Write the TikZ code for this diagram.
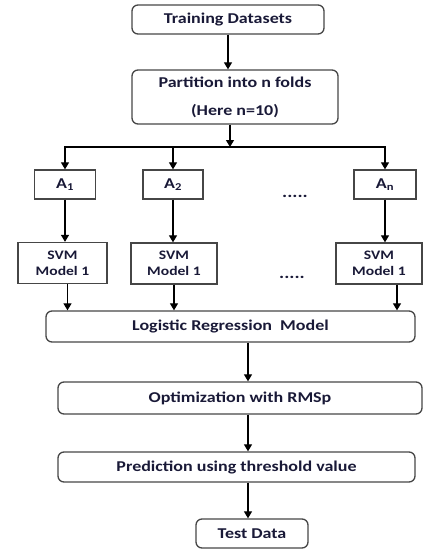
\documentclass[tikz,border=0pt]{standalone}
\usepackage{fontspec}
\setmainfont{Carlito}[FakeStretch=1.2]
\usetikzlibrary{arrows.meta}
\definecolor{boxline}{RGB}{70,70,70}
\definecolor{txt}{RGB}{25,25,55}
\begin{document}
\begin{tikzpicture}[x=1pt,y=-1pt]
    \tikzstyle{e} = [draw, line width=1.1pt, -{Triangle[length=7pt,width=8pt]}]
    \tikzstyle{rbox} = [draw=boxline, line width=1.3pt, rounded corners=6pt, inner sep=0pt, text=txt, align=center, font=\bfseries\fontsize{15}{18}\selectfont]
    \tikzstyle{sbox} = [draw=boxline, line width=1.3pt, inner sep=0pt, text=txt, align=center, font=\bfseries\fontsize{13}{16}\selectfont]
    \tikzstyle{abox} = [sbox, minimum height=29pt, font=\bfseries\fontsize{15}{18}\selectfont]
    \useasboundingbox (0,0) rectangle (423,550);
    % top of the chart
    \node[rbox, minimum width=192pt, minimum height=29pt] (train) at (228,19.5) {Training Datasets};
    \node[rbox, minimum width=206pt, minimum height=54pt] (part) at (235,97) {Partition into n folds\\[10pt](Here n=10)};
    \coordinate (split) at (230,147);
    \coordinate (spine) at (248,0);
    % folds
    \node[abox, minimum width=61pt] (A1) at (65,184.5) {A\textsubscript{1}};
    \node[abox, minimum width=60pt] (A2) at (173,184.5) {A\textsubscript{2}};
    \node[abox, minimum width=62pt] (An) at (385,184.5) {A\textsubscript{n}};
    \node[text=txt, font=\bfseries\fontsize{16}{18}\selectfont] (dotsA) at (295,196) {.....};
    \node[sbox, minimum width=89pt, minimum height=41pt] (S1) at (62.5,263) {SVM\\Model 1};
    \node[sbox, minimum width=86pt, minimum height=41pt] (S2) at (174,263.5) {SVM\\Model 1};
    \node[sbox, minimum width=86pt, minimum height=41pt] (Sn) at (379,263.5) {SVM\\Model 1};
    \node[text=txt, font=\bfseries\fontsize{16}{18}\selectfont] (dotsS) at (292,277) {.....};
    % bottom of the chart
    \node[rbox, minimum width=369pt, minimum height=31pt] (LR) at (230.5,326.5) {Logistic Regression\ \ Model};
    \node[rbox, minimum width=364pt, minimum height=32pt] (opt) at (240,398) {Optimization with RMSp};
    \node[rbox, minimum width=357pt, minimum height=30pt] (pred) at (236.5,467) {Prediction using threshold value};
    \node[rbox, minimum width=112pt, minimum height=29pt] (test) at (252,533.5) {Test Data};
    % arrows
    \draw [e] (train) -- (train |- part.north);
    \draw [e] (part.south -| split) -- (split);
    \draw [e] (split) -| (A1);
    \draw [e] (split) -| (An);
    \draw [e] (A2 |- split) -- (A2);
    \draw [e] (A1) -- (A1 |- S1.north);
    \draw [e] (A2) -- (A2 |- S2.north);
    \draw [e] (An) -- (An |- Sn.north);
    \draw [e] ([xshift=5pt]S1.south) -- ([xshift=5pt]S1.south |- LR.north);
    \draw [e] (S2) -- (S2 |- LR.north);
    \draw [e] ([xshift=18pt]Sn.south) -- ([xshift=18pt]Sn.south |- LR.north);
    \draw [e] (LR.south -| spine) -- (opt.north -| spine);
    \draw [e] (opt.south -| spine) -- (pred.north -| spine);
    \draw [e] (pred.south -| spine) -- (test.north -| spine);
\end{tikzpicture}
\end{document}
